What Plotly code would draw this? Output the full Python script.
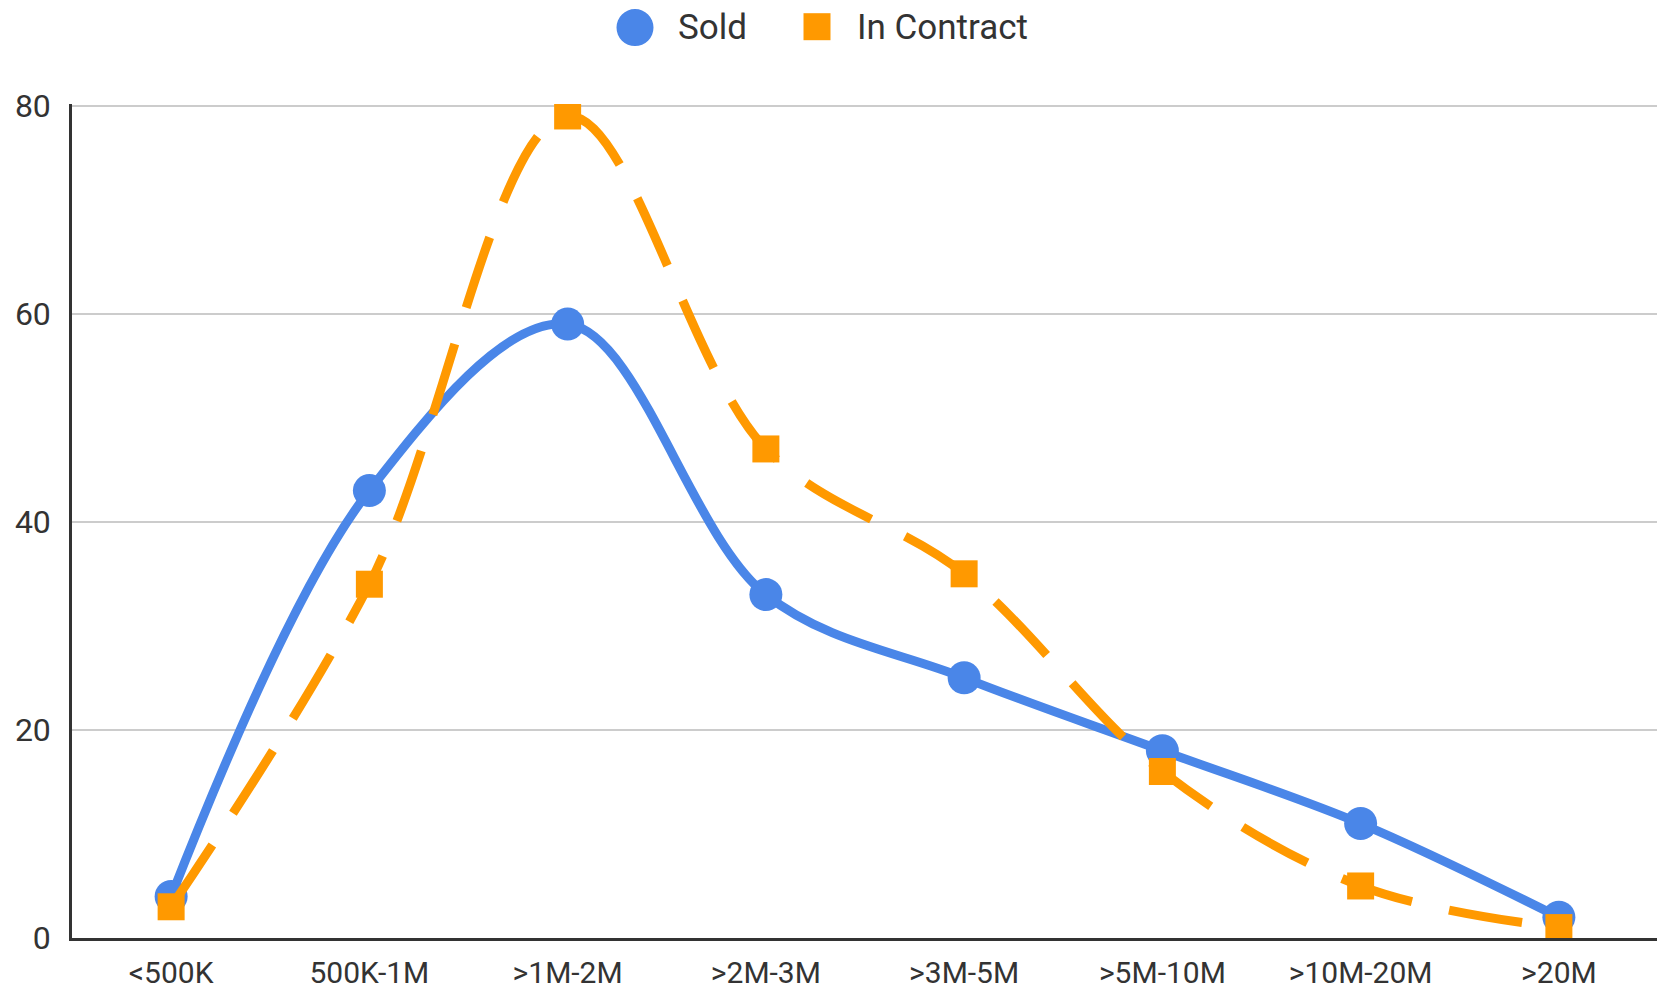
import plotly.graph_objects as go

categories = ["<500K", "500K-1M", ">1M-2M", ">2M-3M", ">3M-5M", ">5M-10M", ">10M-20M", ">20M"]
sold = [4, 43, 59, 33, 25, 18, 11, 2]
in_contract = [3, 34, 79, 47, 35, 16, 5, 1]
y_ticks = [0, 20, 40, 60, 80]
series_names = ["Sold", "In Contract"]

BLUE = "#4a86e8"
ORANGE = "#ff9900"
TEXT = "#333333"

# the page body has an 8px margin, so the figure is offset by 8px
OFF = 8
W, H = 1665 - OFF, 992 - OFF
ML, MR, MT, MB = 72 - OFF, 7, 104 - OFF, 54
PW, PH = W - ML - MR, H - MT - MB


def px_x(p):
    # p: pixel x in the screenshot
    return (p - OFF - ML) / PW


def px_y(p):
    return (H - MB - (p - OFF)) / PH


fig = go.Figure()
fig.add_trace(go.Scatter(
    x=categories, y=sold, name=series_names[0], mode="lines+markers",
    line=dict(color=BLUE, width=9, shape="spline", smoothing=1),
    marker=dict(symbol="circle", size=33, color=BLUE),
))
fig.add_trace(go.Scatter(
    x=categories, y=in_contract, name=series_names[1], mode="lines+markers",
    line=dict(color=ORANGE, width=9, shape="spline", smoothing=1, dash="74px,38px"),
    marker=dict(symbol="square", size=27, color=ORANGE),
))

# manual legend (marker-only symbols, as in the reference)
shapes = [
    dict(type="circle", xref="paper", yref="paper", xsizemode="pixel", ysizemode="pixel",
         xanchor=px_x(635), yanchor=px_y(27.6), x0=-18.5, x1=18.5, y0=-18.5, y1=18.5,
         fillcolor=BLUE, line=dict(width=0)),
    dict(type="rect", xref="paper", yref="paper", xsizemode="pixel", ysizemode="pixel",
         xanchor=px_x(817), yanchor=px_y(26.7), x0=-13.5, x1=13.5, y0=-13.5, y1=13.5,
         fillcolor=ORANGE, line=dict(width=0)),
]
annotations = [
    dict(text=series_names[0], xref="paper", yref="paper", x=px_x(676), y=px_y(27.6),
         xanchor="left", yanchor="middle", showarrow=False,
         font=dict(size=35, color=TEXT, family="Roboto, Arial, sans-serif")),
    dict(text=series_names[1], xref="paper", yref="paper", x=px_x(855), y=px_y(27.6),
         xanchor="left", yanchor="middle", showarrow=False,
         font=dict(size=35, color=TEXT, family="Roboto, Arial, sans-serif")),
]

fig.update_layout(
    width=W, height=H,
    paper_bgcolor="white", plot_bgcolor="white",
    margin=dict(l=ML, r=MR, t=MT, b=MB, autoexpand=False),
    font=dict(family="Roboto, Arial, sans-serif", size=30, color=TEXT),
    showlegend=False,
    shapes=shapes,
    annotations=annotations,
)
fig.update_xaxes(
    type="category", range=[-0.5, 7.5], showgrid=False,
    showline=True, linecolor="#333333", linewidth=2.5,
    ticks="", tickfont=dict(size=30, color=TEXT), ticklabelstandoff=6,
)
fig.update_yaxes(
    range=[0, 80.15], tickvals=y_ticks, showgrid=True, gridcolor="#cccccc", gridwidth=1.5,
    showline=True, linecolor="#333333", linewidth=2.5, zeroline=False,
    ticks="", tickfont=dict(size=32, color=TEXT), ticklabelstandoff=12,
)

fig.write_html("out.html")
